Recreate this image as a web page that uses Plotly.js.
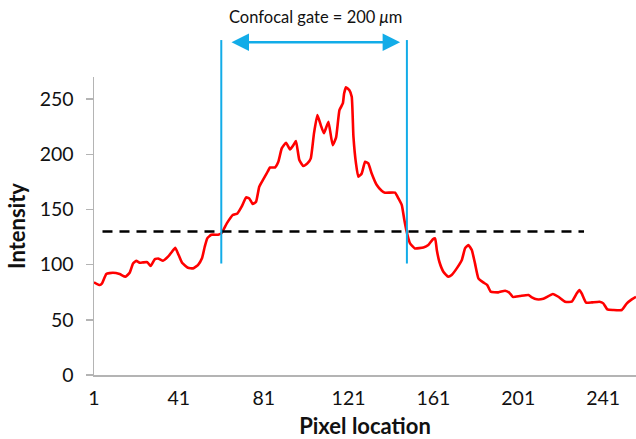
<!DOCTYPE html>
<html>
<head>
<meta charset="utf-8">
<script src="https://cdn.plot.ly/plotly-3.0.1.min.js"></script>
<style>html,body{margin:0;padding:0;background:#fff;}#chart{width:636px;height:439px;}</style>
</head>
<body>
<div id="chart"></div>
<script>
// Pixel location (x) and intensity (y)
var pixelLocation = [1, 3.7, 4.8, 6.8, 9.9, 13.1, 15.8, 17.8, 19.4, 20.9, 22.5, 24.1, 26.1, 27.7, 29.6, 31.5, 33.5, 35.9, 37.8, 39.3,
  40.9, 42.5, 45.3, 47.7, 50.0, 51.9, 53.2, 54.4, 56.3, 59.5, 61.0, 63.6, 66.4, 68.6, 70.6, 72.7, 74.2, 75.8, 77.4, 78.9,
  80.8, 82.4, 84.0, 86.3, 87.9, 89.5, 91.5, 93.4, 95.0, 96.2, 97.8, 99.7, 101.6, 103.2, 104.7, 106.3, 107.9, 109.4, 111.5, 113.5,
  115.1, 116.7, 118.3, 118.9, 119.8, 121.4, 122.5, 123.3, 124.5, 125.6, 127.2, 128.8, 130.3, 131.9, 134.3, 136.6, 138.2, 142.9, 144.5, 146.1,
  147.3, 148.4, 150.0, 152.3, 156.3, 158.6, 160.7, 161.8, 162.6, 163.8, 165.7, 168.0, 169.6, 172.0, 174.4, 175.9, 177.5, 179.1, 180.6, 182.2,
  184.5, 186.4, 188.0, 191.6, 194.8, 196.8, 198.4, 201.8, 205.8, 207.4, 209.7, 212.8, 217.3, 219.9, 223.1, 226.2, 228.6, 229.8, 230.9, 233.0,
  235.7, 239.3, 241.1, 243.0, 245.8, 249.8, 252.2, 254.5, 256.5];
var intensity = [84, 81.5, 83, 91.5, 92.7, 91.5, 89, 92.7, 101, 103.5, 101.7, 102, 102.3, 98.7, 104.8, 105.4, 103.5, 107.2, 111.7, 115.3,
  108.7, 101.7, 97.2, 96.6, 99.6, 105.7, 116.2, 123.8, 127.1, 127.1, 128.3, 137.4, 145, 146.4, 152.5, 160.9, 160, 154.9, 157, 170.6,
  177.2, 182.6, 188, 188, 193.2, 205.3, 210.4, 204.4, 208.3, 212, 194.7, 189.3, 191.7, 196.3, 218.9, 235.5, 226.4, 219, 229.4, 208.3,
  215, 240, 246, 255, 260.6, 258, 252, 215.9, 191.7, 179.6, 182.6, 193.2, 191.7, 182.6, 172.1, 167, 165.2, 165.2, 160, 154,
  140.4, 129.8, 119.2, 114.7, 115.6, 117.8, 122.9, 123.8, 113.2, 102.6, 93.6, 89, 90.6, 96.6, 104.2, 114.7, 117.8, 113.2, 101.1, 87.6,
  83.9, 81.5, 75.5, 74.9, 76.4, 74.6, 70.8, 71.6, 72.5, 70.4, 68.6, 69.1, 73.4, 70.9, 66.4, 66.4, 74, 77, 74, 65.5,
  65.8, 66.4, 64.9, 59.4, 58.9, 58.9, 64.9, 68.5, 70.9];

var xTickVals = [1, 41, 81, 121, 161, 201, 241];
var yTickVals = [0, 50, 100, 150, 200, 250];

var threshold = [130];          // dashed half-maximum level
var thresholdSpan = [5, 232];   // pixel range of dashed line
var gateEdges = [61, 148.5];    // confocal gate boundaries (pixel)
var gateBottom = [101];         // intensity where gate lines end
var gateLabel = 'Confocal gate = 200 <i>\u03bc</i>m';

var blue = '#12ACE8';
var yMax = 270;

var shapes = [
  {type: 'line', xref: 'x', yref: 'y', x0: thresholdSpan[0], x1: thresholdSpan[1], y0: threshold[0], y1: threshold[0],
   line: {color: '#000', width: 2.5, dash: '10px,7px'}},
  {type: 'line', xref: 'x', yref: 'paper', x0: gateEdges[0], x1: gateEdges[0], y0: gateBottom[0] / yMax, y1: 1.124,
   line: {color: blue, width: 2}},
  {type: 'line', xref: 'x', yref: 'paper', x0: gateEdges[1], x1: gateEdges[1], y0: gateBottom[0] / yMax, y1: 1.124,
   line: {color: blue, width: 2}}
];

var annotations = [
  {xref: 'x', yref: 'paper', x: gateEdges[1] - 3.2, y: 1.117, axref: 'x', ayref: 'pixel', ax: gateEdges[0] + 4.1, ay: 0,
   text: '', showarrow: true, arrowhead: 2, startarrowhead: 2, arrowside: 'end+start', arrowsize: 1.4, startarrowsize: 1.4,
   arrowwidth: 2.5, arrowcolor: blue},
  {xref: 'x', yref: 'paper', x: (gateEdges[0] + gateEdges[1]) / 2 + 0.5, y: 1.201, yanchor: 'middle', xanchor: 'center',
   text: gateLabel, showarrow: false, font: {family: 'Lato, "Open Sans", sans-serif', size: 16.5, color: '#111'}}
];

var trace = {
  x: pixelLocation, y: intensity, type: 'scatter', mode: 'lines',
  line: {color: '#FF0000', width: 2.6, shape: 'spline', smoothing: 0.4},
  hoverinfo: 'skip'
};

var layout = {
  width: 636, height: 439,
  margin: {l: 94, r: 0, t: 77, b: 64},
  paper_bgcolor: '#fff', plot_bgcolor: '#fff',
  showlegend: false,
  font: {family: 'Lato, "Open Sans", sans-serif', color: '#111'},
  xaxis: {
    range: [1, 256.5], tickvals: xTickVals, ticktext: xTickVals.map(String),
    showgrid: false, zeroline: false, showline: true, linecolor: '#B4B4B4', linewidth: 1.5,
    ticks: 'outside', ticklen: 5, tickcolor: 'rgba(0,0,0,0)',
    tickfont: {size: 19.5, color: '#111'},
    title: {text: 'Pixel location', standoff: 14, font: {size: 22, weight: 'bold', color: '#111'}},
    automargin: false
  },
  yaxis: {
    range: [0, yMax], tickvals: yTickVals,
    showgrid: false, zeroline: false, showline: true, linecolor: '#B4B4B4', linewidth: 1.5,
    ticks: 'outside', ticklen: 7, tickcolor: '#B4B4B4', tickwidth: 1.5,
    ticklabelstandoff: 8,
    tickfont: {size: 19.5, color: '#111'},
    title: {text: 'Intensity', standoff: 8, font: {size: 22, weight: 'bold', color: '#111'}},
    automargin: false
  },
  shapes: shapes,
  annotations: annotations
};

Plotly.newPlot('chart', [trace], layout, {displayModeBar: false, staticPlot: true});
</script>
</body>
</html>
